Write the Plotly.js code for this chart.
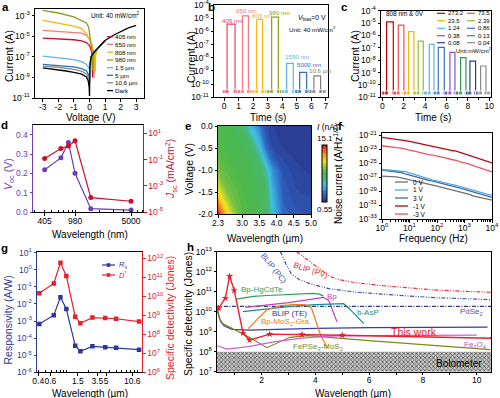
<!DOCTYPE html>
<html>
<head>
<meta charset="utf-8">
<script src="https://cdn.plot.ly/plotly-3.0.1.min.js"></script>
<style>
html,body{margin:0;padding:0;background:#fff;overflow:hidden;}
#chart{width:500px;height:398px;}
</style>
</head>
<body>
<div id="chart"></div>
<script>
// ================= DATA =================
// Panel a : I-V curves (|I| in A)
const A_NAMES = ['405 nm','650 nm','808 nm','980 nm','1.5 µm','5 µm','10.6 µm','Dark'];
const A_V_405 = [-3,-2,-1,-0.5,-0.2,0,0.1,0.16,0.2,0.24,0.3,0.5,1];
const A_I_405 = [7e-6,6e-6,4.8e-6,3.8e-6,2.5e-6,1.3e-6,5e-7,1.5e-7,1e-9,1e-7,2.2e-7,6.3e-7,4e-6];
const A_V_650 = [-3,-2,-1,-0.5,-0.2,0,0.15,0.24,0.28,0.32,0.4,0.5,1];
const A_I_650 = [4e-5,3.3e-5,2.7e-5,2.1e-5,1.3e-5,6e-6,1.6e-6,1.5e-7,8e-10,1.5e-7,4e-7,6.3e-7,4e-6];
const A_V_808 = [-3,-2,-1,-0.5,-0.2,0,0.2,0.32,0.36,0.4,0.5,1];
const A_I_808 = [3.8e-4,2.1e-4,1e-4,5.8e-5,1.9e-5,5e-6,1e-6,1e-7,3e-9,1.5e-7,6.3e-7,4e-6];
const A_V_980 = [-3,-2,-1,-0.5,-0.2,-0.05,0.05,0.12,0.18,0.2,0.24,0.5,1];
const A_I_980 = [3.5e-3,1.95e-3,8e-4,3.8e-4,2.1e-4,8e-5,1e-5,1e-6,1e-7,5e-9,1.5e-7,6.3e-7,4e-6];
const A_V_1P5 = [-3,-2,-1,-0.5,-0.2,-0.05,0,0.05,0.1,0.25,0.5,1];
const A_I_1P5 = [1.2e-7,8.5e-8,5.5e-8,3.5e-8,1.9e-8,1e-8,6e-9,4e-8,1e-7,2.5e-7,6.3e-7,4e-6];
const A_V_5 = [-3,-2,-1,-0.5,-0.2,-0.05,0,0.03,0.1,0.25,0.5,1];
const A_I_5 = [1.9e-8,1.55e-8,1.1e-8,7.5e-9,4.5e-9,1.8e-9,6e-10,1.6e-8,1e-7,2.5e-7,6.3e-7,4e-6];
const A_V_10P6 = [-3,-2,-1,-0.5,-0.2,-0.05,0,0.03,0.1,0.25,0.5,1];
const A_I_10P6 = [1.3e-8,1e-8,6.3e-9,4.2e-9,2.2e-9,8e-10,2.5e-10,1.6e-8,1e-7,2.5e-7,6.3e-7,4e-6];
const A_V_DARK = [-3,-2.5,-2,-1.5,-1,-0.5,-0.2,-0.08,-0.02,0,0.03,0.1,0.25,0.5,1,1.5,2,2.5,3];
const A_I_DARK = [8.5e-9,7.1e-9,5.6e-9,4.3e-9,3.2e-9,2.1e-9,1.1e-9,4.5e-10,1e-10,1.6e-11,1.6e-8,1e-7,2.5e-7,6.3e-7,4e-6,1.26e-5,3.2e-5,7e-5,1.2e-4];

// Panel b : single pulses at 0 V for each wavelength
const B_NAMES = ['405 nm','650 nm','808 nm','980 nm','1550 nm','5000 nm','10.6 µm'];
const B_START = [0.0,1.05,2.05,3.05,4.1,5.0,6.0];
const B_ON    = [0.2,1.26,2.24,3.27,4.3,5.2,6.18];
const B_OFF   = [0.75,1.67,2.65,3.73,4.76,5.68,6.64];
const B_END   = [0.95,1.9,2.9,3.95,4.95,5.9,6.9];
const B_PEAK  = [3.6e-6,1.5e-5,8e-6,1.2e-5,3.8e-9,7.9e-10,4.2e-10];
const B_DARK  = 2.7e-11;

// Panel c : 808 nm pulses at different power densities (mW/cm2)
const C_NAMES = ['273.2','73.5','23.5','2.39','1.24','0.86','0.38','0.13','0.08','0.04'];
const C_START = [0.1,1.2,2.15,3.05,4.05,4.95,5.95,7.0,7.95,8.9];
const C_ON    = [0.4,1.5,2.46,3.36,4.39,5.23,6.32,7.32,8.19,9.19];
const C_OFF   = [1.03,2.02,2.96,3.83,4.83,5.79,6.79,7.82,8.72,9.69];
const C_END   = [1.2,2.15,3.05,4.05,4.95,5.95,7.0,7.95,8.9,9.95];
const C_PEAK  = [1.25e-5,6.9e-6,2e-6,3.5e-7,1.9e-7,1.1e-7,4.3e-8,1.6e-8,8.5e-9,3.4e-9];
const C_DARK  = 2.2e-11;

// Panel d : Voc and Jsc vs wavelength
const D_WL  = [405,650,808,980,1550,5000];
const D_VOC = [0.218,0.28,0.36,0.2,0.017,0.01];
const D_JSC = [0.123,0.71,1.07,2.75,1.26e-4,6.6e-5];

// Panel e : photocurrent map (nA)
const E_WL = [2.3,2.6,3.0,3.3,3.5,3.7,3.9,4.2,4.6,5.0];
const E_V  = [0,-0.5,-1.0,-1.5,-2.0];
const E_I_0   = [7.8,7.5,6.8,4.6,3.2,1.6,1.0,0.8,0.6,0.55];
const E_I_m05 = [8.0,7.6,7.3,6.8,5.4,2.8,1.4,1.0,0.8,0.7];
const E_I_m10 = [9.0,8.0,7.5,7.3,7.1,5.8,3.5,1.8,1.1,0.9];
const E_I_m15 = [11.0,9.0,7.8,7.4,7.2,6.8,4.5,2.2,1.5,1.3];
const E_I_m20 = [15.1,11.0,8.2,7.6,7.4,7.1,5.0,2.6,2.0,1.9];

// Panel f : noise current spectra (log10 of A/Hz^1/2)
const F_NAMES = ['0 V','1 V','3 V','-1 V','-3 V'];
const F_HZ = [1,1.5,2.2,3.3,5,7,10,15,22,33,50,70,100,150,220,330,500,700,1000,1500,2200,3300,5000,7000,10000];
const F_LOG_0V  = [-26.85,-26.9,-26.88,-26.97,-27.1,-27.22,-27.43,-27.52,-27.72,-27.83,-28.02,-28.13,-28.29,-28.47,-28.58,-28.82,-28.93,-29.17,-29.33,-29.48,-29.72,-29.88,-30.07,-30.18,-30.29];
const F_LOG_1V  = [-25.9,-25.93,-26.02,-26.08,-26.17,-26.18,-26.4,-26.62,-26.83,-27.07,-27.23,-27.42,-27.52,-27.72,-27.83,-28.03,-28.18,-28.37,-28.52,-28.72,-28.88,-29.12,-29.28,-29.47,-29.57];
const F_LOG_3V  = [-26.0,-26.06,-26.13,-26.27,-26.33,-26.52,-26.7,-26.88,-27.12,-27.28,-27.47,-27.58,-27.72,-27.88,-28.07,-28.23,-28.42,-28.58,-28.76,-28.97,-29.13,-29.37,-29.53,-29.77,-29.9];
const F_LOG_M1V = [-21.3,-21.42,-21.48,-21.62,-21.68,-21.77,-21.86,-22.02,-22.13,-22.32,-22.4,-22.57,-22.67,-22.87,-22.98,-23.17,-23.28,-23.47,-23.62,-23.83,-24.07,-24.28,-24.57,-24.73,-24.95];
const F_LOG_M3V = [-22.5,-22.62,-22.63,-22.77,-22.83,-23.02,-23.14,-23.28,-23.47,-23.58,-23.77,-23.83,-23.95,-24.12,-24.28,-24.47,-24.58,-24.82,-24.95,-25.13,-25.37,-25.58,-25.87,-26.03,-26.24];

// Panel g : responsivity and detectivity
const G_WL = [0.405,0.65,0.808,0.98,1.31,1.55,2.3,3.5,5,10.6];
const G_R  = [6.8e-4,2.2e-3,2.45e-2,5.1e-3,3.6e-5,1.7e-5,3.3e-5,2.9e-5,2.75e-5,2.1e-5];
const G_D  = [1.45e10,4.8e10,5.9e11,1.17e11,8.5e8,3.8e8,7.6e8,7.2e8,6.6e8,4.7e8];
const G_TICKTEXT = ['0.4','0.6','1.5','3.5','5','10.6'];

// Panel h : detectivity benchmark (log10 Jones)
const H_PV_X = [3.3,3.6,3.9,4.2,4.5,4.8,5.5,6.5,7.5,8.5,9.5,10.6];
const H_PV_LOG = [13.0,12.7,12.4,12.1,11.8,11.62,11.45,11.3,11.18,11.08,11.02,10.97];
const H_PC_X = [2.7,2.9,3.1,3.4,3.8,4.5,5.5,6.5,7.5,8.5,9.5,10.6];
const H_PC_LOG = [13.0,12.4,11.9,11.6,11.4,11.15,10.98,10.87,10.78,10.7,10.65,10.6];
const H_TE_X = [0.3,10.6];
const H_TE_LOG = [10.27,10.27];
const H_HGCDTE_X = [1.06,1.4,1.7,2.2,2.7,3.3,3.9,4.15,4.3];
const H_HGCDTE_LOG = [10.63,10.72,10.77,10.81,10.85,10.89,10.92,10.88,10.78];
const H_BP_X = [1.4,2.0,2.5,3.0,3.5,4.0,4.3,4.5,4.65,4.8];
const H_BP_LOG = [10.22,10.3,10.38,10.45,10.55,10.65,10.72,10.55,10.0,9.5];
const H_BASP_X = [1.3,2.0,3.0,4.0,4.7,5.05,5.3,5.6,5.8];
const H_BASP_LOG = [10.0,10.1,10.25,10.35,10.4,10.4,10.1,9.65,9.4];
const H_PDSE2_X = [0.34,0.45,0.6,0.9,1.5,2.5,4,6,8,10.4];
const H_PDSE2_LOG = [10.2,9.6,9.3,9.12,9.08,9.12,9.17,9.2,9.22,9.23];
const H_MOSGRA_X = [1.5,1.7,1.9,2.2,2.7,3.2,3.6,3.85,4.0,4.2,4.45];
const H_MOSGRA_LOG = [9.15,9.4,9.7,10.1,10.3,10.35,10.35,10.2,9.6,8.8,8.2];
const H_FEPSE_X = [0.34,0.42,0.5,1.0,1.5,2.2,2.6,3.05,3.7,4.5,6,8,10.5];
const H_FEPSE_LOG = [10.1,9.7,9.45,9.1,8.75,8.2,8.45,8.72,8.8,8.7,8.55,8.35,8.1];
const H_FE3O4_X = [0.34,0.7,1.5,2.5,3.5,4.5,6,8,10];
const H_FE3O4_LOG = [8.3,8.13,8.25,8.5,8.68,8.78,8.8,8.82,8.83];
const H_BOLO_X = [0.3,10.6,10.6,0.3];
const H_BOLO_Y = [1e7,1e7,1e8,1e8];

// ================= HELPERS =================
const W = 500, H = 398;
const FONT = '"Liberation Sans", Arial, Helvetica, sans-serif';
const TFS = 8.5;
const px = x => x / W, py = y => 1 - y / H;
const dX = (a, b) => [a / W, b / W];
const dY = (t, b) => [1 - b / H, 1 - t / H];
const pow10 = a => a.map(v => Math.pow(10, v));
function logT(exps) {
  return {tickmode: 'array', tickvals: exps.map(e => Math.pow(10, e)),
          ticktext: exps.map(e => '10<sup>' + String(e) + '</sup>')};
}
function linT(vals, fmt) {
  return {tickmode: 'array', tickvals: vals, ticktext: vals.map(fmt || (v => String(v)))};
}
function AX(o) {
  return Object.assign({showline: true, linecolor: '#000', linewidth: 1, mirror: true,
    ticks: 'outside', ticklen: 2.5, tickwidth: 1, tickcolor: '#000', showgrid: false, tickangle: 0,
    zeroline: false, automargin: false, fixedrange: true,
    tickfont: {family: FONT, size: TFS, color: '#000'}}, o);
}
function XAX(o) { return AX(Object.assign({ticklabelstandoff: -2}, o)); }
const ann = [], shp = [];
function T(x, y, text, o) {
  o = o || {};
  ann.push({xref: 'paper', yref: 'paper', x: px(x), y: py(y), text: text, showarrow: false,
    xanchor: o.xa || 'center', yanchor: o.ya || 'middle', textangle: o.rot || 0, borderpad: 0,
    font: {family: FONT, size: o.size || 10, color: o.color || '#000'}});
}
function L(x0, x1, y, color, w, dash) {
  shp.push({type: 'line', xref: 'paper', yref: 'paper', x0: px(x0), x1: px(x1), y0: py(y), y1: py(y),
    line: {color: color, width: w || 1.2, dash: dash || 'solid'}});
}
function SQ(cx, cy, s, color) {
  shp.push({type: 'rect', xref: 'paper', yref: 'paper', x0: px(cx - s), x1: px(cx + s),
    y0: py(cy + s), y1: py(cy - s), fillcolor: color, line: {width: 0}});
}

const traces = [];
function line(x, y, xa, ya, color, w, extra) {
  traces.push(Object.assign({type: 'scatter', mode: 'lines', x: x, y: y, xaxis: xa, yaxis: ya,
    line: {color: color, width: w || 1.2}, showlegend: false, hoverinfo: 'skip'}, extra || {}));
}

// ================= PANEL a =================
const A_COLORS = ['#c8102e','#f27a7a','#f5b700','#8a9d1c','#5db3e4','#2e6db4','#8c8c8c','#000000'];
const aSets = [[A_V_405,A_I_405],[A_V_650,A_I_650],[A_V_808,A_I_808],[A_V_980,A_I_980],
               [A_V_1P5,A_I_1P5],[A_V_5,A_I_5],[A_V_10P6,A_I_10P6],[A_V_DARK,A_I_DARK]];
aSets.forEach((s, i) => line(s[0], s[1], 'x', 'y', A_COLORS[i], 1.3));
const aRows = [36.7,44.3,52.2,60,67.7,75.3,82.8,90.6];
A_NAMES.forEach((n, i) => { L(107, 113, aRows[i], A_COLORS[i], 1.3); T(114, aRows[i], n, {xa: 'left', size: 6.2}); });
T(90, 15, 'Unit: 40 mW/cm<sup>2</sup>', {xa: 'left', size: 6.4});

// ================= PANEL b =================
const B_COLORS = ['#e0475e','#f27a7a','#f5b700','#8a9d1c','#5db3e4','#2e6db4','#7f7f7f'];
B_NAMES.forEach((n, i) => {
  line([B_START[i],B_ON[i],B_ON[i],B_OFF[i],B_OFF[i],B_END[i]],
       [B_DARK,B_DARK,B_PEAK[i],B_PEAK[i],B_DARK,B_DARK], 'x2', 'y2', B_COLORS[i], 1.2,
       {mode: 'lines+markers', marker: {symbol: 'square', size: [4,4,0,0,4,4], color: B_COLORS[i]}});
});
const bLab = [[221,20],[235,11],[251,16],[268,12.3],[284,56.7],[296,64],[308,70]];
B_NAMES.forEach((n, i) => T(bLab[i][0], bLab[i][1], n, {xa: 'left', size: 6.2, color: B_COLORS[i]}));
T(297, 18.3, '<i>V</i><sub>bias</sub>=0 V', {xa: 'left', size: 6.8});
T(288, 29.3, 'Unit: 40 mW/cm<sup>2</sup>', {xa: 'left', size: 6.2});

// ================= PANEL c =================
const C_COLORS = ['#c00000','#f05050','#f5b700','#8fbf3f','#5db3e4','#3a6fc0','#8a4fc8','#2a9a4a','#1f3f9f','#8c8c8c'];
C_NAMES.forEach((n, i) => {
  line([C_START[i],C_ON[i],C_ON[i],C_OFF[i],C_OFF[i],C_END[i]],
       [C_DARK,C_DARK,C_PEAK[i],C_PEAK[i],C_DARK,C_DARK], 'x3', 'y3', C_COLORS[i], 1.2,
       {mode: 'lines+markers', marker: {symbol: 'square', size: [4,4,0,0,4,4], color: C_COLORS[i]}});
});
const cRows = [13.3,20.7,28.3,35.7,42.7];
C_NAMES.forEach((n, i) => {
  const r = Math.floor(i / 2), c = i % 2;
  const x0 = c === 0 ? 437 : 467;
  L(x0, x0 + 8, cRows[r], C_COLORS[i], 1.2);
  T(x0 + 10, cRows[r], n, {xa: 'left', size: 6});
});
T(385, 13.3, '808 nm &amp; 0V', {xa: 'left', size: 6.4});
T(455, 50, 'Unit:mW/cm<sup>2</sup>', {xa: 'left', size: 6});

// ================= PANEL d =================
const D_PURPLE = '#6a3db8', D_RED = '#c8102e';
line(D_WL, D_VOC, 'x4', 'y4', D_PURPLE, 1.2, {mode: 'lines+markers', marker: {size: 5, color: D_PURPLE}});
line(D_WL, D_JSC, 'x4', 'y5', D_RED, 1.2, {mode: 'lines+markers', marker: {size: 5, color: D_RED}});

// ================= PANEL e =================
const E_SCALE = [[0,'#2b3990'],[0.12,'#2e5cb8'],[0.24,'#3a9fdc'],[0.32,'#40c2e4'],[0.4,'#46b87a'],
                 [0.5,'#4cb848'],[0.6,'#7cc242'],[0.72,'#f0e61e'],[0.85,'#f7931e'],[1,'#e41e26']];
traces.push({type: 'contour', x: E_WL, y: E_V, z: [E_I_0,E_I_m05,E_I_m10,E_I_m15,E_I_m20],
  xaxis: 'x5', yaxis: 'y6', colorscale: E_SCALE, zmin: 0.55, zmax: 15.1, hoverinfo: 'skip',
  contours: {coloring: 'fill', start: 0.55, end: 15.1, size: 0.45, showlines: false},
  line: {width: 0, smoothing: 1},
  colorbar: {x: px(322), xanchor: 'left', y: py(173.4), yanchor: 'middle', len: 56.7 / H, lenmode: 'fraction',
    thickness: 4.5, thicknessmode: 'pixels', xpad: 0, ypad: 0, outlinewidth: 1, outlinecolor: '#000',
    showticklabels: false, ticks: ''}});
T(327, 127, '<i>I</i> (nA)', {size: 8.5});
T(324.5, 138.5, '15.1', {size: 8});
T(324.5, 209, '0.55', {size: 8});

// ================= PANEL f =================
const F_COLORS = ['#707070','#5aa8e0','#3a6aa8','#c00010','#f05060'];
const fSets = [F_LOG_0V, F_LOG_3V, F_LOG_1V, F_LOG_M3V, F_LOG_M1V];
const fIdx = [0, 2, 1, 4, 3];
fSets.forEach((s, k) => line(F_HZ, pow10(s), 'x6', 'y7', F_COLORS[fIdx[k]], 1.3));
const fRows = [182,190,198,206,214];
F_NAMES.forEach((n, i) => { L(395, 408, fRows[i], F_COLORS[i], 1.3); T(412, fRows[i], n, {xa: 'left', size: 6.5}); });

// ================= PANEL g =================
const G_BLUE = '#2b3a9a', G_RED = '#e8202a';
line(G_WL, G_R, 'x7', 'y8', G_BLUE, 1.2, {mode: 'lines+markers', marker: {symbol: 'square', size: 4.5, color: G_BLUE}});
line(G_WL, G_D, 'x7', 'y9', G_RED, 1.2, {mode: 'lines+markers', marker: {symbol: 'square', size: 4.5, color: G_RED}});
L(102, 115, 265, G_BLUE, 1.2); SQ(108.5, 265, 1.8, G_BLUE); T(118, 265, '<i>R</i><sub>λ</sub>', {xa: 'left', size: 7.5, color: G_BLUE});
L(102, 115, 275, G_RED, 1.2); SQ(108.5, 275, 1.8, G_RED); T(118, 275, '<i>D</i><sup>*</sup>', {xa: 'left', size: 7.5, color: G_RED});

// ================= PANEL h =================
traces.push({type: 'scatter', mode: 'none', x: H_BOLO_X, y: H_BOLO_Y, fill: 'toself', xaxis: 'x8', yaxis: 'y10',
  fillpattern: {shape: 'x', fgcolor: '#555555', bgcolor: '#c8c8c8', size: 3, solidity: 0.45},
  showlegend: false, hoverinfo: 'skip'});
const DD = '4px,1.5px,1px,1.5px,1px,1.5px';
line(H_PV_X, pow10(H_PV_LOG), 'x8', 'y10', '#e8303a', 1.2, {line: {color: '#e8303a', width: 1.2, dash: DD}});
line(H_PC_X, pow10(H_PC_LOG), 'x8', 'y10', '#3f4fb3', 1.2, {line: {color: '#3f4fb3', width: 1.2, dash: DD}});
line(H_TE_X, pow10(H_TE_LOG), 'x8', 'y10', '#2c3590', 1.2, {line: {color: '#2c3590', width: 1.2, dash: '4px,1.5px,1px,1.5px'}});
line(H_HGCDTE_X, pow10(H_HGCDTE_LOG), 'x8', 'y10', '#2e9e5b', 1.2);
line(H_BP_X, pow10(H_BP_LOG), 'x8', 'y10', '#c040c0', 1.2);
line(H_BASP_X, pow10(H_BASP_LOG), 'x8', 'y10', '#1a8c8c', 1.2);
line(H_PDSE2_X, pow10(H_PDSE2_LOG), 'x8', 'y10', '#3c3ca0', 1.2);
line(H_MOSGRA_X, pow10(H_MOSGRA_LOG), 'x8', 'y10', '#f07a1a', 1.2);
line(H_FEPSE_X, pow10(H_FEPSE_LOG), 'x8', 'y10', '#7a8a1a', 1.2);
line(H_FE3O4_X, pow10(H_FE3O4_LOG), 'x8', 'y10', '#d060d0', 1.2);
line(G_WL, G_D, 'x8', 'y10', '#e8202a', 1.4, {mode: 'lines+markers', marker: {symbol: 'star', size: 5.5, color: '#e8202a'}});
T(274, 268, 'BLIP (PC)', {size: 8, color: '#3f4fb3', rot: 52});
T(311, 270, 'BLIP (PV)', {size: 8, color: '#e8303a', rot: 18});
T(262, 289, 'Bp-HgCdTe', {size: 8, color: '#2e9e5b'});
T(332, 296, 'Bp', {size: 8, color: '#c040c0'});
T(289, 313, 'BLIP (TE)', {size: 8, color: '#2c3590'});
T(368, 312, 'b-AsP', {size: 8, color: '#1a8c8c'});
T(471, 312, 'PdSe<sub>2</sub>', {size: 8, color: '#5b4db0'});
T(285, 322, 'Bp-MoS<sub>2</sub>-Gra', {size: 8, color: '#f07a1a'});
T(414, 332, 'This work', {size: 10.5, color: '#e8202a'});
T(318, 347, 'FePSe<sub>3</sub>-MoS<sub>2</sub>', {size: 8, color: '#7a8a1a'});
T(475, 345, 'Fe<sub>3</sub>O<sub>4</sub>', {size: 8, color: '#c050c0'});
T(459, 363, 'Bolometer', {size: 10});

// ================= AXIS TITLES & LETTERS =================
T(9, 56, 'Current (A)', {rot: -90, size: 10.5});
T(90, 117, 'Voltage (V)', {size: 10});
T(191, 57, 'Current (A)', {rot: -90, size: 10.5});
T(268, 117, 'Time (s)', {size: 10});
T(355, 56, 'Current (A)', {rot: -90, size: 10.5});
T(433, 117, 'Time (s)', {size: 10});
T(9, 174, '<i>V</i><sub>oc</sub> (V)', {rot: -90, size: 10.5, color: D_PURPLE});
T(90, 234.5, 'Wavelength (nm)', {size: 10});
T(171, 169, '<i>J</i><sub>sc</sub> (mA/cm<sup>2</sup>)', {rot: -90, size: 10.5, color: D_RED});
T(189, 169, 'Voltage (V)', {rot: -90, size: 10.5});
T(265, 238, 'Wavelength (µm)', {size: 10});
T(338, 174, 'Noise current (A/Hz<sup>1/2</sup>)', {rot: -90, size: 10});
T(433, 238.5, 'Frequency (Hz)', {size: 10});
T(7.5, 320, 'Responsivity (A/W)', {rot: -90, size: 10.5, color: G_BLUE});
T(90, 393, 'Wavelength (µm)', {size: 10});
T(170, 318, 'Specific detectivity (Jones)', {rot: -90, size: 10.5, color: G_RED});
T(188, 314, 'Specific detectivity (Jones)', {rot: -90, size: 10.5});
T(353, 393, 'Wavelength (µm)', {size: 10});
[['a',5.5,6.5],['b',211,6.5],['c',344,6.5],['d',4.5,125],['e',188,126],['f',339.5,126],['g',4.5,248],['h',190,247]]
  .forEach(l => T(l[1], l[2], '<b>' + l[0] + '</b>', {size: 11.5}));

// ================= LAYOUT =================
const layout = {
  width: W, height: H, margin: {l: 0, r: 0, t: 0, b: 0}, paper_bgcolor: '#fff', plot_bgcolor: 'rgba(0,0,0,0)',
  showlegend: false, font: {family: FONT, size: TFS, color: '#000'},
  annotations: ann, shapes: shp,
  // a
  xaxis: XAX(Object.assign({domain: dX(35,144), range: [-3.5,3.5], anchor: 'y'}, linT([-3,-2,-1,0,1,2,3]))),
  yaxis: AX(Object.assign({domain: dY(9,98), type: 'log', range: [-11,-2.32], anchor: 'x'}, logT([-3,-5,-7,-9,-11]))),
  // b
  xaxis2: XAX(Object.assign({domain: dX(214,328), range: [-0.7,7.15], anchor: 'y2'}, linT([0,1,2,3,4,5,6,7]))),
  yaxis2: AX(Object.assign({domain: dY(5,97.3), type: 'log', range: [-11,-4], anchor: 'x2'}, logT([-4,-5,-6,-7,-8,-9,-10,-11]))),
  // c
  xaxis3: XAX(Object.assign({domain: dX(381,491), range: [-0.12,10.16], anchor: 'y3',
    minor: {tickmode: 'linear', dtick: 1, ticks: 'outside', ticklen: 2, tickcolor: '#000'}}, linT([0,2,4,6,8,10]))),
  yaxis3: AX(Object.assign({domain: dY(10.7,97.3), type: 'log', range: [-11,-4], anchor: 'x3'}, logT([-4,-5,-6,-7,-8,-9,-10,-11]))),
  // d
  xaxis4: XAX(Object.assign({domain: dX(33,143), type: 'log', range: [2.46,3.85], anchor: 'y4',
    minor: {dtick: 'D1', ticks: 'inside', ticklen: 2, tickcolor: '#000'}}, linT([405,980,5000]))),
  yaxis4: AX(Object.assign({domain: dY(125,212), range: [0,0.45], anchor: 'x4', mirror: false,
    linecolor: D_PURPLE, tickcolor: D_PURPLE, tickfont: {family: FONT, size: TFS, color: D_PURPLE}},
    linT([0,0.1,0.2,0.3,0.4], v => v.toFixed(1)))),
  yaxis5: AX(Object.assign({overlaying: 'y4', side: 'right', anchor: 'x4', type: 'log', range: [-5,1.64], mirror: false,
    linecolor: D_RED, tickcolor: D_RED, tickfont: {family: FONT, size: TFS, color: D_RED}}, logT([1,-1,-3,-5]))),
  // e
  xaxis5: XAX(Object.assign({domain: dX(218,311), range: [2.3,5.0], anchor: 'y6'},
    linT([2.3,3.0,3.5,4.0,4.5,5.0], v => v.toFixed(1)))),
  yaxis6: AX(Object.assign({domain: dY(126,214), range: [-2,0], anchor: 'x5'},
    linT([0,-0.5,-1,-1.5,-2], v => v.toFixed(1)))),
  // f
  xaxis6: XAX(Object.assign({domain: dX(382,492), type: 'log', range: [0,4], anchor: 'y7',
    minor: {dtick: 'D1', ticks: 'outside', ticklen: 2, tickcolor: '#000'}}, logT([0,1,2,3,4]))),
  yaxis7: AX(Object.assign({domain: dY(133,219), type: 'log', range: [-33,-20.67], anchor: 'x6'},
    logT([-21,-23,-25,-27,-29,-31,-33]))),
  // g
  xaxis7: XAX({domain: dX(37,142), type: 'log', range: [-0.426,1.067], anchor: 'y8',
    tickmode: 'array', tickvals: [0.39,0.58,1.43,2.7,3.6,8.5], ticktext: G_TICKTEXT,
    minor: {dtick: 'D1', ticks: 'inside', ticklen: 2, tickcolor: '#000'}}),
  yaxis8: AX(Object.assign({domain: dY(251.7,372.3), type: 'log', range: [-6,1.06], anchor: 'x7', mirror: false,
    linecolor: G_BLUE, tickcolor: G_BLUE, tickfont: {family: FONT, size: TFS, color: G_BLUE}},
    logT([1,0,-1,-2,-3,-4,-5,-6]))),
  yaxis9: AX(Object.assign({overlaying: 'y8', side: 'right', anchor: 'x7', type: 'log', range: [6,12.35], mirror: false,
    linecolor: G_RED, tickcolor: G_RED, tickfont: {family: FONT, size: TFS, color: G_RED}},
    logT([12,11,10,9,8,7,6]))),
  // h
  xaxis8: XAX(Object.assign({domain: dX(217,491), range: [0.34,10.53], anchor: 'y10',
    minor: {tickmode: 'linear', tick0: 1, dtick: 1, ticks: 'outside', ticklen: 2, tickcolor: '#000'}}, linT([2,4,6,8,10]))),
  yaxis10: AX(Object.assign({domain: dY(251.7,371.7), type: 'log', range: [7,13], anchor: 'x8'},
    logT([7,8,9,10,11,12,13])))
};

Plotly.newPlot('chart', traces, layout, {staticPlot: true, displayModeBar: false});
</script>
</body>
</html>
